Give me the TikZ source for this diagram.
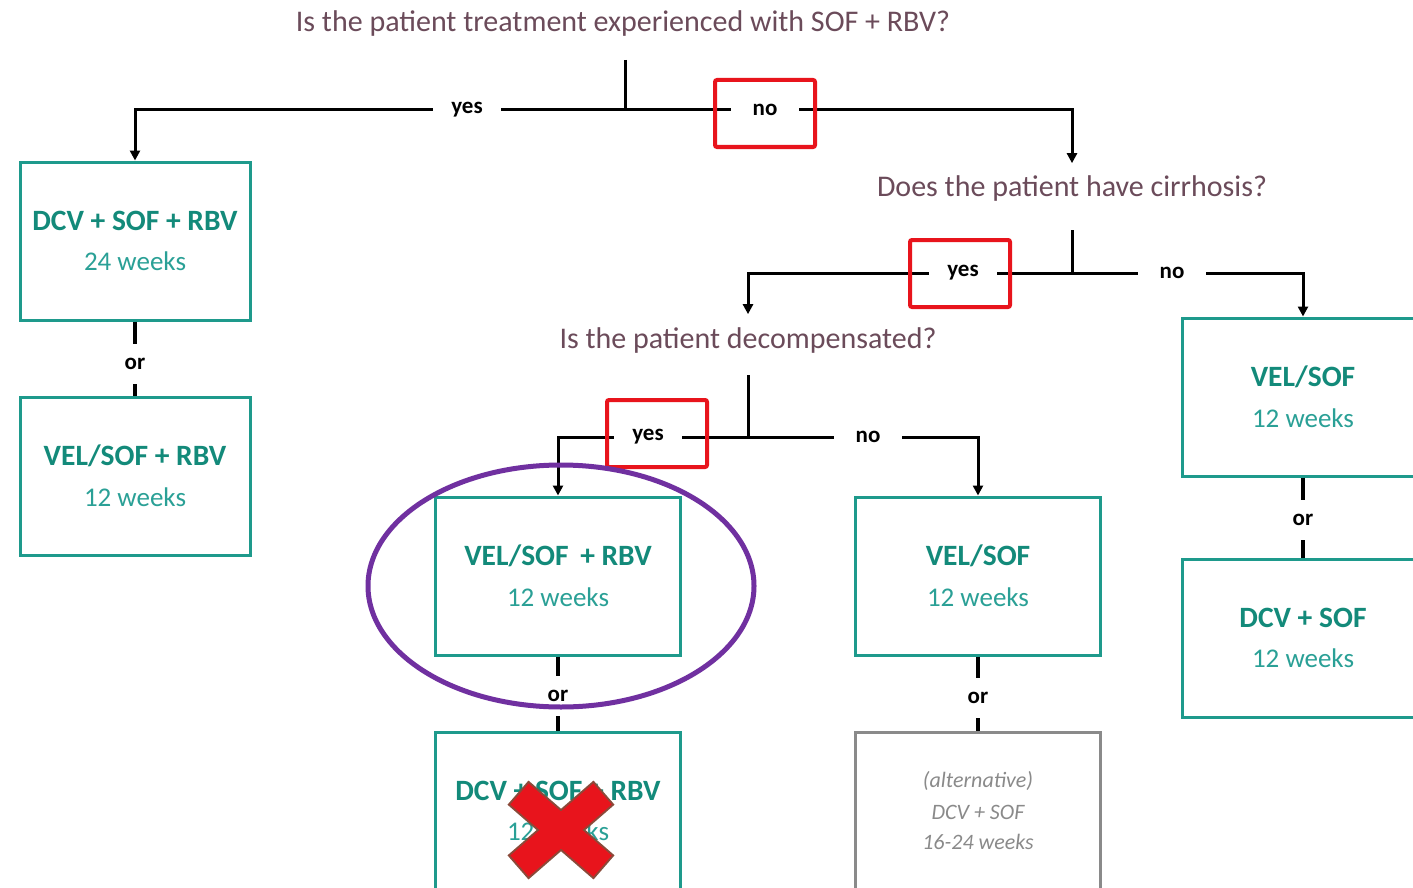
\documentclass[tikz,border=0pt]{standalone}
\usepackage{fontspec}
\setmainfont{Carlito}
\usetikzlibrary{arrows.meta,shapes.geometric}

\definecolor{boxteal}{HTML}{1E9A8C}
\definecolor{titleteal}{HTML}{138A7A}
\definecolor{weekteal}{HTML}{2AA096}
\definecolor{qcolor}{HTML}{6B4B5A}
\definecolor{altgray}{HTML}{8A8A8A}
\definecolor{markred}{HTML}{E8141C}
\definecolor{xbrown}{HTML}{8B4A3A}
\definecolor{ringpurple}{HTML}{7030A0}

% two-line regimen label: drug combination over duration
\newcommand{\rxtext}[2]{{\fontsize{29.5}{30}\selectfont\bfseries\color{titleteal}#1}\\[20pt]{\fontsize{27}{30}\selectfont\color{weekteal}#2}}

\tikzset{
  qtext/.style={font=\fontsize{30}{32}\selectfont, text=qcolor, inner sep=0},
  lab/.style={font=\fontsize{23}{26}\selectfont\bfseries, text=black, minimum width=68pt, minimum height=20pt, inner sep=0},
  orlab/.style={font=\fontsize{23}{26}\selectfont\bfseries, text=black, minimum width=30pt, minimum height=40pt, inner sep=0},
  rxbox/.style={draw=boxteal, line width=3pt, minimum width=230pt, minimum height=158pt, align=center, inner sep=0},
  altbox/.style={draw=altgray, line width=3pt, minimum width=245pt, minimum height=158pt, align=center, inner sep=0,
    font=\fontsize{22}{24}\selectfont\itshape, text=altgray},
  flow/.style={line width=3pt, draw=black},
  arr/.style={flow, -{Triangle[length=10pt,width=10pt]}},
  orline/.style={line width=3.5pt, draw=black},
  redbox/.style={draw=markred, line width=4pt, rounded corners=2pt, minimum width=100pt, minimum height=67pt, inner sep=0},
}

\begin{document}
\begin{tikzpicture}[x=1pt,y=-1pt]
\useasboundingbox (0,0) rectangle (1413,888);
\clip (0,0) rectangle (1413,888);
\fill[white] (0,0) rectangle (1413,888);

% --- first question: prior SOF + RBV
\node[qtext] (q1) at (623,24) {Is the patient treatment experienced with SOF + RBV?};
\coordinate (t1) at (625,60);
\coordinate (j1) at (625,110);
\node[lab] (y1) at (467,110) {yes};
\node[lab] (n1) at (765,110) {no};

% experienced branch
\node[rxbox] (b1) at (135,241) {\rxtext{DCV + SOF + RBV}{24 weeks}};
\node[orlab] (o1) at (135,364) {or};
\node[rxbox] (b2) at (135,476) {\rxtext{VEL/SOF + RBV}{12 weeks}};

\draw[flow] (t1) -- (j1);
\draw[flow] (j1) -- (y1);
\draw[arr] (y1) -| (b1);
\draw[flow] (j1) -- (n1);
\draw[orline] (b1) -- (o1) -- (b2);

% --- second question: cirrhosis
\node[qtext, outer ysep=13pt] (q2) at (1072,189) {Does the patient have cirrhosis?};
\draw[arr] (n1) -| (q2);
\coordinate (t2) at (1072,230);
\coordinate (j2) at (1072,273);
\node[lab] (y2) at (963,273) {yes};
\node[lab] (n2) at (1172,273) {no};

\node[rxbox, minimum width=242pt] (r1) at (1303,397) {\rxtext{VEL/SOF}{12 weeks}};
\node[orlab] (o3) at (1303,520) {or};
\node[rxbox, minimum width=242pt] (r2) at (1303,638) {\rxtext{DCV + SOF}{12 weeks}};

\draw[flow] (t2) -- (j2);
\draw[flow] (j2) -- (y2);
\draw[flow] (j2) -- (n2);
\draw[arr] (n2) -| (r1);
\draw[orline] (r1) -- (o3) -- (r2);

% --- third question: decompensation
\node[qtext, outer ysep=13pt] (q3) at (748,340) {Is the patient decompensated?};
\draw[arr] (y2) -| (q3);
\coordinate (t3) at (748,375);
\coordinate (j3) at (748,437);
\node[lab] (y3) at (648,437) {yes};
\node[lab] (n3) at (868,437) {no};

\node[rxbox, minimum width=245pt] (m1) at (558,576) {\rxtext{VEL/SOF\, + RBV}{12 weeks}};
\node[orlab] (o4) at (558,696) {or};
\node[rxbox, minimum width=245pt] (m2) at (558,811) {\rxtext{DCV + SOF + RBV}{12 weeks}};

\node[rxbox, minimum width=245pt] (k1) at (978,576) {\rxtext{VEL/SOF}{12 weeks}};
\node[orlab] (o5) at (978,698) {or};
\node[altbox] (k2) at (978,811) {(alternative)\\[8pt]DCV + SOF\\[6pt]16-24 weeks};

\draw[flow] (t3) -- (j3);
\draw[flow] (j3) -- (y3);
\draw[arr] (y3) -| (m1);
\draw[flow] (j3) -- (n3);
\draw[arr] (n3) -| (k1);
\draw[orline] (m1) -- (o4) -- (m2);
\draw[orline] (k1) -- (o5) -- (k2);

% --- highlight marks
\node[redbox] (h1) at (765,113.5) {};
\node[redbox] (h2) at (960,273.5) {};
\node[redbox] (h3) at (657,433.5) {};
\node[ellipse, draw=ringpurple, line width=5pt, minimum width=386pt, minimum height=242pt, inner sep=0] (ring) at (561,586) {};

% red cross over the rejected regimen
\begin{scope}[shift={(561,830)}]
  \foreach \a in {41,-41} {
    \draw[xbrown, line width=4pt, rotate=\a] (-55,-14) rectangle (55,14);
  }
  \foreach \a in {41,-41} {
    \fill[markred, rotate=\a] (-55,-14) rectangle (55,14);
  }
\end{scope}
\end{tikzpicture}
\end{document}
